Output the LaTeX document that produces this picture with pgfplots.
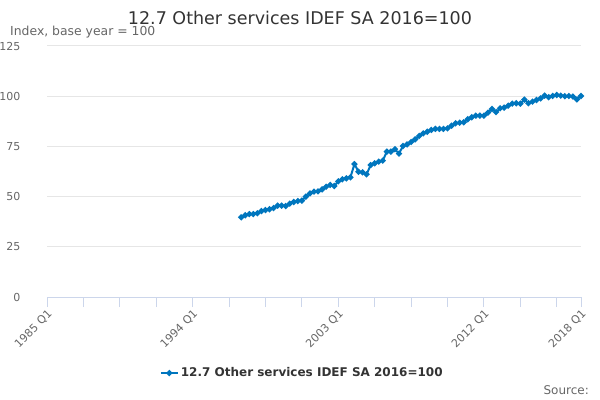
\documentclass[border=0pt]{standalone}
\usepackage{pgfplots}
\pgfplotsset{compat=1.18}
\usepackage{fontspec}
\setmainfont{DejaVu Sans}
\definecolor{ser}{RGB}{0,118,190}
\definecolor{tick}{HTML}{666666}
\definecolor{ttl}{HTML}{333333}
\definecolor{axl}{HTML}{CCD6EB}
\definecolor{grd}{HTML}{E6E6E6}
\begin{document}
\begin{tikzpicture}
\useasboundingbox (0,0) rectangle (600bp,400bp);
\node[text=ttl, font=\fontsize{17.5bp}{20bp}\selectfont] at (300bp,382bp) {12.7 Other services IDEF SA 2016=100};
\node[text=tick, anchor=west, inner sep=0pt, font=\fontsize{12.4bp}{14bp}\selectfont] at (10bp,368bp) {Index, base year = 100};
\node[text=tick, anchor=east, inner sep=0pt, font=\fontsize{12bp}{14bp}\selectfont] at (589bp,10bp) {Source:};
\begin{axis}[
  at={(47bp,103bp)}, anchor=south west,
  scale only axis, width=534bp, height=251bp,
  xmin=0, xmax=132, ymin=0, ymax=125,
  axis x line*=bottom, axis y line*=left,
  x axis line style={axl, line width=1bp, -},
  y axis line style={draw=none},
  xtick style={axl, line width=1bp},
  major tick length=10bp, minor tick length=10bp, tick align=outside,
  ytick={0,25,50,75,100,125},
  ymajorgrids, grid style={grd, line width=1bp},
  ytick style={draw=none},
  yticklabel style={text=tick, font=\fontsize{11bp}{13bp}\selectfont, xshift=-13bp},
  xtick={0,36,72,108,132},
  minor xtick={9,18,27,45,54,63,81,90,99,117,126},
  xticklabels={1985 Q1,1994 Q1,2003 Q1,2012 Q1,2018 Q1},
  xticklabel style={text=tick, font=\fontsize{11bp}{13bp}\selectfont, rotate=45, anchor=east, yshift=-6bp, xshift=2bp},
  /pgf/number format/assume math mode=true,
  legend style={at={(0.478,-0.303)}, anchor=center, draw=none, fill=none, font=\bfseries\fontsize{12bp}{14bp}\selectfont, text=ttl},
  clip=false,
]
\addplot[ser, line width=2bp, mark=*, mark size=1.9bp, mark options={solid, fill=ser, draw=ser}] coordinates {
(48,39.7)(49,40.7)(50,41.3)(51,41.3)(52,41.7)(53,42.8)(54,43.3)(55,43.7)(56,44.3)(57,45.5)
(58,45.5)(59,45.3)(60,46.5)(61,47.3)(62,47.8)(63,48.0)(64,50.0)(65,51.6)(66,52.5)(67,52.6)
(68,53.6)(69,54.9)(70,55.8)(71,55.3)(72,57.6)(73,58.6)(74,59.1)(75,59.6)(76,66.2)(77,62.4)
(78,62.1)(79,61.1)(80,65.7)(81,66.6)(82,67.4)(83,67.9)(84,72.4)(85,72.4)(86,73.6)(87,71.4)
(88,75.2)(89,76.0)(90,77.2)(91,78.5)(92,80.2)(93,81.5)(94,82.3)(95,83.2)(96,83.7)(97,83.7)
(98,83.7)(99,84.0)(100,85.3)(101,86.5)(102,86.8)(103,87.0)(104,88.5)(105,89.5)(106,90.3)(107,90.3)
(108,90.3)(109,91.8)(110,93.6)(111,92.1)(112,94.0)(113,94.3)(114,95.3)(115,96.3)(116,96.5)(117,96.3)
(118,98.3)(119,96.5)(120,97.3)(121,98.1)(122,98.9)(123,100.3)(124,99.5)(125,100.1)(126,100.6)(127,100.3)
(128,100.0)(129,100.1)(130,99.8)(131,98.4)(132,100.1)
};
\addlegendentry{12.7 Other services IDEF SA 2016=100}
\end{axis}
\end{tikzpicture}
\end{document}
